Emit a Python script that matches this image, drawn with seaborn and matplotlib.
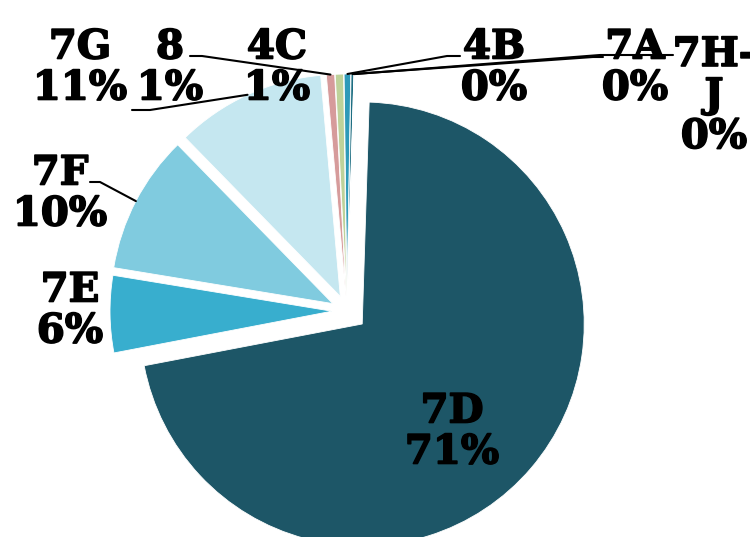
import matplotlib
matplotlib.use('Agg')
import numpy as np
import pandas as pd
import matplotlib.pyplot as plt
import matplotlib.patheffects as pe
import seaborn as sns

# Datos: porcentaje por grupo (orden de las porciones, sentido horario desde arriba)
grupos = ['4B', '7A', '7H-J', '7D', '7E', '7F', '7G', '8', '4C']
porcentajes = [0.48, 0.2, 0.03, 71.49, 5.6, 10.1, 10.9, 0.6, 0.6]
colores = ['#2E9AB9', '#1E6E82', '#4BACC6', '#1D5667', '#38AECE',
           '#80CBDF', '#C5E7F0', '#D69B9B', '#BED29A']

df = pd.DataFrame({'grupo': grupos, 'pct': porcentajes})
df['pct_real'] = df['pct'] / df['pct'].sum() * 100

sns.set_theme(style='white')
plt.rcParams['font.family'] = ['DejaVu Serif']

W, H = 750, 537

# separacion de cada porcion (en pixeles, el radio es 222)
explode = [15, 15, 15, 20, 15, 16, 16, 15, 15]

fig = plt.figure(figsize=(7.5, 5.37), dpi=100)
ax = fig.add_axes([0, 0, 1, 1])
wedges, _ = ax.pie(df['pct'], colors=colores, explode=explode, startangle=90.76,
                   counterclock=False, center=(347, H - 311), radius=222,
                   wedgeprops=dict(edgecolor='white', linewidth=0.6))
ax.set_xlim(0, W)
ax.set_ylim(0, H)
ax.set_aspect('equal')
ax.axis('off')

# posicion de las etiquetas (en pixeles de la imagen)
pos = {'7D': (452, 432), '7E': (70, 311), '7F': (60, 194), '7G': (80, 68),
       '8': (170, 68), '4C': (277, 68), '4B': (494, 68), '7A': (635, 68),
       '7H-J': (714, 96)}
lineas = {'7F': [(90, 182), (100, 182)], '7G': [(132, 110), (150, 110)],
          '8': [(190, 56), (202, 56)], '4B': [(460, 56), (447, 56)],
          '7A': [(603, 57), (593, 57)], '7H-J': [(673, 55), (600, 55)]}

grueso = [pe.withStroke(linewidth=1.2, foreground='black')]

for w, (_, fila) in zip(wedges, df.iterrows()):
    g = fila['grupo']
    nombre = '7H-\nJ' if g == '7H-J' else g
    x, y = pos[g]
    ax.text(x, H - y, f"{nombre}\n{fila['pct_real']:.0f}%", ha='center', va='center',
            fontsize=29, fontweight='bold', color='black', linespacing=1.1,
            path_effects=grueso)
    if g in lineas:
        ang = np.deg2rad((w.theta1 + w.theta2) / 2)
        px = w.center[0] + w.r * np.cos(ang)
        py = w.center[1] + w.r * np.sin(ang)
        xs = [p[0] for p in lineas[g]] + [px]
        ys = [H - p[1] for p in lineas[g]] + [py]
        ax.plot(xs, ys, color='black', lw=1.5)

fig.savefig('out.png', dpi=100)
